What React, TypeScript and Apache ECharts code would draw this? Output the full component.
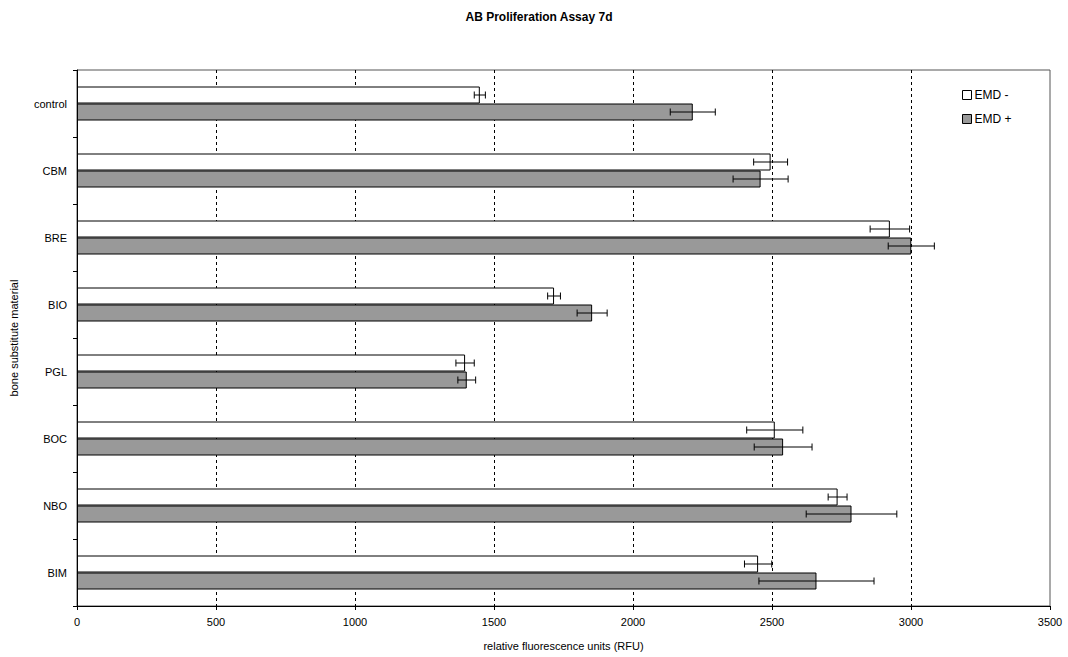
import React, { useEffect, useRef } from "react";
import * as echarts from "echarts";

const categories = ["control", "CBM", "BRE", "BIO", "PGL", "BOC", "NBO", "BIM"];
const emdMinus = [1449, 2495, 2924, 1716, 1396, 2510, 2736, 2450];
const emdMinusErr = [20, 61, 71, 23, 33, 101, 34, 49];
const emdPlus = [2215, 2459, 3001, 1853, 1402, 2540, 2786, 2660];
const emdPlusErr = [81, 99, 83, 54, 32, 104, 163, 207];
const xTicks = [0, 500, 1000, 1500, 2000, 2500, 3000, 3500];

const FONT = "'Liberation Sans', Arial, sans-serif";
const BAR_W = 17;

function errorSeries(name: string, values: number[], errs: number[], offset: number) {
  return {
    type: "custom",
    name: name + " err",
    silent: true,
    z: 5,
    data: values.map((v, i) => [i, v - errs[i], v + errs[i]]),
    renderItem: (params: any, api: any) => {
      const idx = api.value(0);
      const lo = api.coord([api.value(1), idx]);
      const hi = api.coord([api.value(2), idx]);
      const y = lo[1] + offset;
      const cap = 3.5;
      const style = { stroke: "#000", lineWidth: 1 };
      return {
        type: "group",
        children: [
          { type: "line", shape: { x1: lo[0], y1: y, x2: hi[0], y2: y }, style },
          { type: "line", shape: { x1: lo[0], y1: y - cap, x2: lo[0], y2: y + cap }, style },
          { type: "line", shape: { x1: hi[0], y1: y - cap, x2: hi[0], y2: y + cap }, style },
        ],
      };
    },
  };
}

export default function App() {
  const ref = useRef<HTMLDivElement>(null);
  useEffect(() => {
    const chart = echarts.init(ref.current!, undefined, { renderer: "svg" });
    chart.setOption({
      animation: false,
      backgroundColor: "#fff",
      textStyle: { fontFamily: FONT },
      title: {
        text: "AB Proliferation Assay 7d",
        left: 534,
        textAlign: "center",
        top: 6,
        textStyle: { fontFamily: FONT, fontSize: 12, fontWeight: "bold", color: "#000" },
      },
      legend: {
        orient: "vertical",
        left: 957,
        top: 84,
        icon: "rect",
        itemWidth: 9,
        itemHeight: 9,
        itemGap: 12,
        data: ["EMD -", "EMD +"],
        itemStyle: { borderColor: "#000", borderWidth: 1 },
        textStyle: { fontFamily: FONT, fontSize: 12, color: "#000", padding: [0, 0, 0, -2] },
      },
      grid: {
        left: 74,
        right: 18,
        top: 70,
        bottom: 51,
        show: true,
        borderColor: "#555",
        borderWidth: 1,
      },
      xAxis: {
        type: "value",
        min: 0,
        max: 3500,
        interval: 500,
        name: "relative fluorescence units (RFU)",
        nameLocation: "middle",
        nameGap: 34,
        nameTextStyle: { fontFamily: FONT, fontSize: 11, color: "#000" },
        axisLine: { show: true, lineStyle: { color: "#000", width: 1 } },
        axisTick: { show: true, length: 4, lineStyle: { color: "#000" } },
        axisLabel: {
          fontFamily: FONT,
          fontSize: 11,
          color: "#000",
          margin: 10,
          formatter: (v: number) => (xTicks.includes(v) ? String(v) : ""),
        },
        splitLine: {
          show: true,
          showMinLine: false,
          showMaxLine: false,
          lineStyle: { color: "#000", type: [3, 3], width: 1 },
        },
      },
      yAxis: {
        type: "category",
        data: categories,
        inverse: true,
        name: "bone substitute material",
        nameLocation: "middle",
        nameGap: 58,
        nameRotate: 90,
        nameTextStyle: { fontFamily: FONT, fontSize: 11, color: "#000" },
        axisLine: { show: true, lineStyle: { color: "#000", width: 1 } },
        axisTick: { show: true, length: 4, lineStyle: { color: "#000" } },
        axisLabel: { fontFamily: FONT, fontSize: 11, color: "#000", margin: 10 },
        splitLine: { show: false },
      },
      series: [
        {
          type: "bar",
          name: "EMD -",
          data: emdMinus,
          barWidth: BAR_W,
          barGap: "0%",
          itemStyle: { color: "#fff", borderColor: "#000", borderWidth: 1 },
        },
        {
          type: "bar",
          name: "EMD +",
          data: emdPlus,
          barWidth: BAR_W,
          barGap: "0%",
          itemStyle: { color: "#999999", borderColor: "#000", borderWidth: 1 },
        },
        errorSeries("EMD -", emdMinus, emdMinusErr, -BAR_W / 2),
        errorSeries("EMD +", emdPlus, emdPlusErr, BAR_W / 2),
      ],
    });
    return () => chart.dispose();
  }, []);
  return <div ref={ref} style={{ width: 1068, height: 657, position: "absolute", left: 0, top: 0 }} />;
}
